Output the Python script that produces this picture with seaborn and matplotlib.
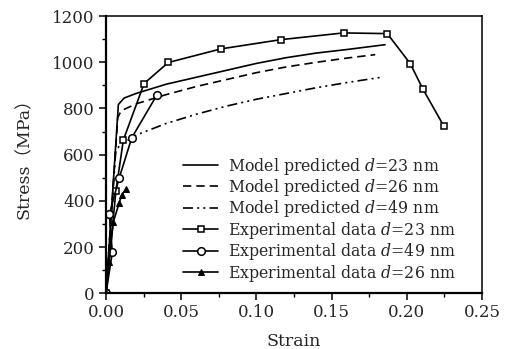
import matplotlib
matplotlib.use("Agg")
import matplotlib.pyplot as plt
import seaborn as sns
import pandas as pd
from matplotlib.ticker import MultipleLocator

sns.set_style("ticks")
plt.rcParams['font.family'] = ['DejaVu Serif', 'Noto Sans CJK SC', 'DejaVu Sans']
plt.rcParams['mathtext.fontset'] = 'dejavuserif'

# Model predicted curves
m23_x = [0.0, 0.0082, 0.012, 0.02, 0.04, 0.06, 0.08, 0.10, 0.12, 0.14, 0.16, 0.1855]
m23_y = [0, 817, 845, 865, 905, 935, 965, 995, 1020, 1040, 1055, 1076]
m26_x = [0.0, 0.0078, 0.01, 0.02, 0.04, 0.06, 0.08, 0.10, 0.12, 0.14, 0.16, 0.179]
m26_y = [0, 760, 790, 820, 860, 895, 925, 955, 980, 1000, 1018, 1033]
m49_x = [0.0, 0.0065, 0.01, 0.02, 0.04, 0.06, 0.08, 0.10, 0.12, 0.14, 0.16, 0.182]
m49_y = [0, 620, 645, 685, 735, 775, 810, 840, 865, 890, 912, 934]

# Experimental data
e23_x = [0.0, 0.0066, 0.0115, 0.0253, 0.0414, 0.0765, 0.1164, 0.158, 0.187, 0.2023, 0.2106, 0.2245]
e23_y = [0, 444, 663, 908, 999, 1058, 1098, 1127, 1124, 994, 885, 725]
e49_x = [0.0, 0.0042, 0.0022, 0.0088, 0.0171, 0.0337]
e49_y = [0, 177, 342, 500, 673, 857]
e26_x = [0.0, 0.002, 0.0049, 0.0088, 0.0104, 0.0131]
e26_y = [0, 137, 310, 392, 425, 450]

labels = [r"Model predicted $d$=23 nm", r"Model predicted $d$=26 nm", r"Model predicted $d$=49 nm",
          r"Experimental data $d$=23 nm", r"Experimental data $d$=49 nm", r"Experimental data $d$=26 nm"]

x_ticks = [0.00, 0.05, 0.10, 0.15, 0.20, 0.25]
x_ticklabels = ["0.00", "0.05", "0.10", "0.15", "0.20", "0.25"]
y_ticks = [0, 200, 400, 600, 800, 1000, 1200]

fig = plt.figure(figsize=(5.09, 3.49), dpi=100)
ax = fig.add_axes([0.2083, 0.1596, 0.7387, 0.7944])

def draw(x, y, label, **kw):
    df = pd.DataFrame({"x": x, "y": y})
    sns.lineplot(data=df, x="x", y="y", sort=False, estimator=None, ax=ax, label=label,
                 color="black", lw=1.2, **kw)

draw(m23_x, m23_y, labels[0], linestyle='-')
draw(m26_x, m26_y, labels[1], linestyle=(0, (5, 3)))
draw(m49_x, m49_y, labels[2], linestyle=(0, (6, 2.5, 1.2, 2.5, 1.2, 2.5)))
draw(e23_x, e23_y, labels[3], marker='s', markersize=5, markerfacecolor='white',
     markeredgecolor='black', markeredgewidth=1.1)
draw(e49_x, e49_y, labels[4], marker='o', markersize=5.5, markerfacecolor='white',
     markeredgecolor='black', markeredgewidth=1.1)
draw(e26_x, e26_y, labels[5], marker='^', markersize=5, markerfacecolor='black',
     markeredgecolor='black')

ax.set_xlim(0, 0.25)
ax.set_ylim(0, 1200)
ax.set_xticks(x_ticks)
ax.set_xticklabels(x_ticklabels)
ax.set_yticks(y_ticks)
ax.xaxis.set_minor_locator(MultipleLocator(0.025))
ax.yaxis.set_minor_locator(MultipleLocator(100))
ax.tick_params(which='major', direction='out', length=5, width=1.1, labelsize=12, color='black', pad=3)
ax.tick_params(which='minor', direction='out', length=3, width=1.0, color='black')
for s in ax.spines.values():
    s.set_visible(True)
    s.set_linewidth(1.1)
    s.set_color('black')
ax.spines['left'].set_linewidth(1.6)
ax.spines['bottom'].set_linewidth(1.6)

ax.set_xlabel("Strain", fontsize=12.5, labelpad=8)
ax.set_ylabel("Stress（MPa）", fontsize=12.5, labelpad=14)

leg = ax.legend(loc='upper left', bbox_to_anchor=(0.205, 0.497), frameon=False, fontsize=11.3,
                handlelength=2.25, handletextpad=0.6, labelspacing=0.03, borderaxespad=0.0,
                borderpad=0.0)

fig.savefig("out.png", dpi=100)
